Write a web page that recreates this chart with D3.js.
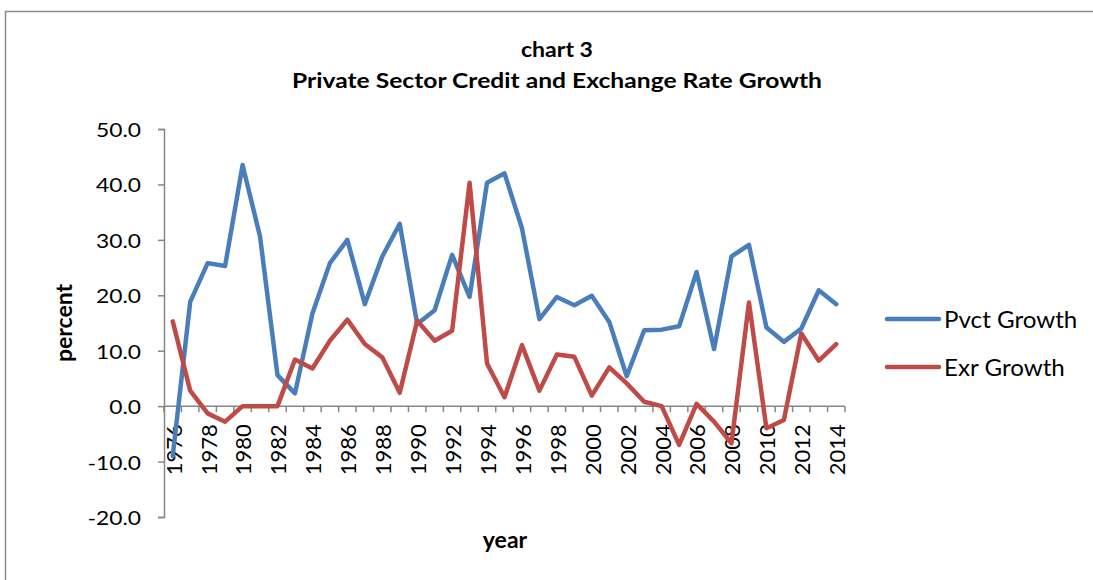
<!DOCTYPE html>
<html>
<head>
<meta charset="utf-8">
<script src="https://cdn.jsdelivr.net/npm/d3@7"></script>
<style>
  html, body { margin: 0; padding: 0; background: #fff; }
  svg { display: block; font-family: Lato, "Open Sans", sans-serif; }
</style>
</head>
<body>
<svg id="chart" width="1093" height="580"></svg>
<script>
// Annual growth rates, 1976-2014 (percent)
const years = d3.range(1976, 2015).map(String);
const pvctGrowth = [-9.0, 18.8, 25.8, 25.3, 43.5, 30.6, 5.6, 2.3, 16.7, 25.8,
  30.0, 18.4, 27.0, 32.9, 14.8, 17.3, 27.3, 19.7, 40.3, 42.0,
  32.1, 15.7, 19.7, 18.2, 19.9, 15.2, 5.4, 13.7, 13.8, 14.4,
  24.2, 10.3, 27.0, 29.1, 14.2, 11.6, 14.0, 20.9, 18.4];
const exrGrowth = [15.3, 2.8, -1.3, -2.8, 0.0, 0.0, 0.0, 8.4, 6.8, 11.8,
  15.6, 11.2, 8.8, 2.4, 15.4, 11.8, 13.6, 40.3, 7.7, 1.6,
  11.0, 2.8, 9.3, 8.9, 1.9, 7.0, 4.1, 0.8, 0.0, -7.0,
  0.4, -2.8, -6.7, 18.7, -4.0, -2.5, 13.1, 8.2, 11.2];
const yTicks = [-20, -10, 0, 10, 20, 30, 40, 50];
const seriesNames = ["Pvct Growth", "Exr Growth"];
const seriesColors = ["#4A7EBB", "#BE4B48"];

const svg = d3.select("#chart");
const axisColor = "#868686";

// chart frame
svg.append("rect")
  .attr("x", 5.5).attr("y", 11.5)
  .attr("width", 1200).attr("height", 700)
  .attr("fill", "none").attr("stroke", "#8a8a8a").attr("stroke-width", 1.5);

const plot = { left: 164, right: 845, top: 129, bottom: 517 };

const x = d3.scaleBand().domain(years).range([plot.left, plot.right]);
const y = d3.scaleLinear().domain([-20, 50]).range([plot.bottom, plot.top]);

// one decimal, plain hyphen for negatives
const fmt = d => d.toFixed(1);

// y axis
const yAxis = svg.append("g").attr("transform", `translate(${plot.left},0)`)
  .call(d3.axisLeft(y).tickValues(yTicks).tickSize(6).tickPadding(0).tickFormat(fmt));
yAxis.select(".domain").attr("stroke", axisColor).attr("stroke-width", 1.5);
yAxis.selectAll(".tick line").attr("stroke", axisColor).attr("stroke-width", 1.5);
yAxis.selectAll(".tick text")
  .attr("x", null).attr("dy", null)
  .attr("text-anchor", "end")
  .attr("dominant-baseline", "central")
  .attr("transform", "translate(-23,0) scale(1.14,1)")
  .attr("fill", "#000")
  .style("font-size", "20px")
  .style("font-family", "Lato, sans-serif");

// x axis along zero line, ticks at category boundaries
const xAxisG = svg.append("g").attr("transform", `translate(0,${y(0)})`);
xAxisG.append("line")
  .attr("x1", plot.left).attr("x2", plot.right)
  .attr("stroke", axisColor).attr("stroke-width", 1.5);
const boundaries = years.map(d => x(d)).concat([x(years[years.length - 1]) + x.bandwidth()]);
xAxisG.selectAll("line.tk").data(boundaries).join("line")
  .attr("class", "tk")
  .attr("x1", d => d).attr("x2", d => d)
  .attr("y1", 0).attr("y2", 6)
  .attr("stroke", axisColor).attr("stroke-width", 1.5);

// rotated year labels, every other year
svg.append("g").selectAll("text")
  .data(years.filter((d, i) => i % 2 === 0))
  .join("text")
  .attr("transform", d => `translate(${x(d) + x.bandwidth() / 2 + 1},${y(0) + 18}) rotate(-90)`)
  .attr("text-anchor", "end")
  .attr("dy", "0.36em")
  .style("font-size", "22px")
  .attr("fill", "#000")
  .text(d => d);

// series lines
const line = d3.line()
  .x((d, i) => x(years[i]) + x.bandwidth() / 2)
  .y(d => y(d));

[pvctGrowth, exrGrowth].forEach((vals, k) => {
  svg.append("path")
    .datum(vals)
    .attr("d", line)
    .attr("fill", "none")
    .attr("stroke", seriesColors[k])
    .attr("stroke-width", 4.5)
    .attr("stroke-linejoin", "round")
    .attr("stroke-linecap", "round");
});

// title
svg.append("text")
  .attr("x", 557).attr("y", 57)
  .attr("text-anchor", "middle")
  .style("font-size", "20px").style("font-weight", "bold")
  .attr("textLength", 72).attr("lengthAdjust", "spacingAndGlyphs")
  .text("chart 3");
svg.append("text")
  .attr("x", 557).attr("y", 88)
  .attr("text-anchor", "middle")
  .style("font-size", "20px").style("font-weight", "bold")
  .attr("textLength", 530).attr("lengthAdjust", "spacingAndGlyphs")
  .text("Private Sector Credit and Exchange Rate Growth");

// axis titles
svg.append("text")
  .attr("transform", `translate(64,${(plot.top + plot.bottom) / 2}) rotate(-90)`)
  .attr("text-anchor", "middle")
  .attr("dy", "0.35em")
  .style("font-size", "23px").style("font-weight", "bold")
  .text("percent");
svg.append("text")
  .attr("x", 505).attr("y", 548)
  .attr("text-anchor", "middle")
  .style("font-size", "23px").style("font-weight", "bold")
  .text("year");

// legend
const legend = svg.append("g");
seriesNames.forEach((name, k) => {
  const ly = 319 + k * 48;
  legend.append("line")
    .attr("x1", 887).attr("x2", 939)
    .attr("y1", ly).attr("y2", ly)
    .attr("stroke", seriesColors[k]).attr("stroke-width", 4.5)
    .attr("stroke-linecap", "round");
  legend.append("text")
    .attr("transform", `translate(944,${ly}) scale(1.05,1)`)
    .attr("dominant-baseline", "central")
    .style("font-size", "23px")
    .text(name);
});
</script>
</body>
</html>
